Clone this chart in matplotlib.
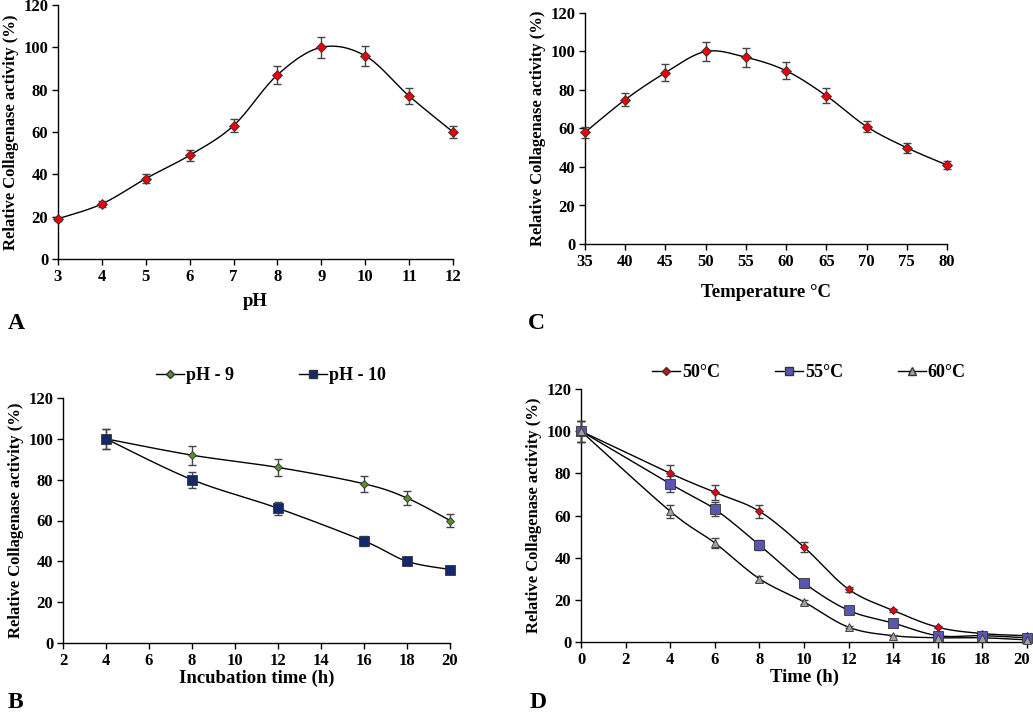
import numpy as np
import matplotlib
matplotlib.use("Agg")
import matplotlib.pyplot as plt
import matplotlib.transforms as mtransforms
from matplotlib.lines import Line2D

plt.rcParams['font.family'] = ['Liberation Serif', 'DejaVu Serif']
plt.rcParams['font.weight'] = 'bold'

# ---------------- data ----------------
ph_x = [3, 4, 5, 6, 7, 8, 9, 10, 11, 12]
ph_y = [19, 26, 38, 49, 63, 87, 100, 96, 77, 60]
ph_err = [1, 1.5, 2, 2.5, 3, 4.2, 5, 4.8, 4, 3]

temp_x = [35, 40, 45, 50, 55, 60, 65, 70, 75, 80]
temp_y = [58, 75, 89, 100, 97, 90, 77, 61, 50, 41]
temp_err = [3, 3.5, 4.5, 5, 4.8, 4.5, 4, 3, 2.5, 2]

inc_x = [4, 8, 12, 16, 18, 20]
ph9_y = [100, 92, 86, 78, 71, 60]
ph9_err = [5, 4.6, 4.3, 3.9, 3.5, 3]
ph10_y = [100, 80, 66, 50, 40, 36]
ph10_err = [5, 4, 3.3, 2.5, 2, 1.8]

time_x = [0, 4, 6, 8, 10, 12, 14, 16, 18, 20]
t50_y = [100, 80, 71, 62, 45, 25, 15, 7, 4, 3]
t50_err = [5, 4, 3.5, 3, 2.5, 1.3, 0.8, 0.4, 0.2, 0.2]
t55_y = [100, 75, 63, 46, 28, 15, 9, 3, 3, 2]
t55_err = [5, 3.7, 3.2, 2.3, 1.4, 0.8, 0.5, 0.2, 0.2, 0.1]
t60_y = [100, 62, 47, 30, 19, 7, 3, 2, 2, 1]
t60_err = [5, 3.1, 2.4, 1.5, 1.0, 0.4, 0.2, 0.1, 0.1, 0.1]


def smooth(x, y, n=30):
    """Excel-style smoothed line (Catmull-Rom Bezier)."""
    x = np.asarray(x, float); y = np.asarray(y, float)
    P = np.column_stack([x, y])
    out = []
    for i in range(len(P) - 1):
        p0 = P[i - 1] if i > 0 else P[i]
        p1 = P[i]
        p2 = P[i + 1]
        p3 = P[i + 2] if i + 2 < len(P) else P[i + 1]
        c1 = p1 + (p2 - p0) / 6.0
        c2 = p2 - (p3 - p1) / 6.0
        t = np.linspace(0, 1, n)[:, None]
        seg = ((1 - t) ** 3) * p1 + 3 * ((1 - t) ** 2) * t * c1 + 3 * (1 - t) * t ** 2 * c2 + t ** 3 * p2
        out.append(seg if i == 0 else seg[1:])
    S = np.vstack(out)
    return S[:, 0], S[:, 1]


W, H = 1033, 713
fig = plt.figure(figsize=(W / 100, H / 100), dpi=100)


def make_ax(l, r, t, b):
    return fig.add_axes([l / W, 1 - b / H, (r - l) / W, (b - t) / H])


def style(ax, xlim, xticks):
    ax.set_xlim(*xlim)
    ax.set_ylim(0, 120)
    ax.set_xticks(xticks)
    ax.set_yticks(range(0, 121, 20))
    for s in ['top', 'right']:
        ax.spines[s].set_visible(False)
    for s in ['left', 'bottom']:
        ax.spines[s].set_linewidth(1.0)
    ax.tick_params(direction='out', length=4, width=1, labelsize=12, pad=3)
    for lab in ax.get_xticklabels() + ax.get_yticklabels():
        lab.set_fontweight('bold')
    ax.set_ylabel('Relative Collagenase activity (%)', fontsize=12, fontweight='bold', labelpad=3)


def series(ax, x, y, err, marker, fc, ms, ec='#333333', mew=0.6):
    sx, sy = smooth(x, y)
    ax.plot(sx, sy, color='black', lw=1.0, zorder=2, clip_on=False)
    ax.errorbar(x, y, yerr=err, fmt='none', ecolor='#444444', elinewidth=1.0, capsize=2.8, capthick=1.0,
                zorder=3, clip_on=False)
    ax.plot(x, y, linestyle='none', marker=marker, mfc=fc, mec=ec, mew=mew, ms=ms, zorder=4, clip_on=False)


# ---------- Panel A ----------
axA = make_ax(58, 453, 5, 259)
series(axA, ph_x, ph_y, ph_err, 'D', '#e8000b', 5)
style(axA, (3, 12), ph_x)
axA.set_xlabel('pH', fontsize=13.5, fontweight='bold', labelpad=6)

# ---------- Panel C ----------
axC = make_ax(585, 947, 13, 244)
series(axC, temp_x, temp_y, temp_err, 'D', '#e8000b', 5)
style(axC, (35, 80), temp_x)
axC.set_xlabel('Temperature °C', fontsize=13.5, fontweight='bold', labelpad=10)

# ---------- Panel B ----------
axB = make_ax(63, 450, 398, 643)
series(axB, inc_x, ph9_y, ph9_err, 'D', '#5b8c32', 4.5)
series(axB, inc_x, ph10_y, ph10_err, 's', '#14286e', 7)
style(axB, (2, 20), range(2, 21, 2))
axB.set_xlabel('Incubation time (h)', fontsize=13.5, fontweight='bold', labelpad=1)
hB = [Line2D([], [], color='black', lw=1, marker='D', mfc='#5b8c32', mec='#333333', ms=4),
      Line2D([], [], color='black', lw=1, marker='s', mfc='#14286e', mec='#333333', ms=5.5)]
axB.legend(hB, ['pH - 9', 'pH - 10'], loc='center', bbox_to_anchor=(0.537, 1.09), ncol=2, frameon=False,
           prop={'weight': 'bold', 'size': 13}, handlelength=1.55, handletextpad=0.1, columnspacing=3.6)

# ---------- Panel D ----------
axD = make_ax(581, 1027, 389, 642)
series(axD, time_x, t50_y, t50_err, 'D', '#e8000b', 4.5)
series(axD, time_x, t55_y, t55_err, 's', '#5a55b0', 6.5)
series(axD, time_x, t60_y, t60_err, '^', '#a0a0a0', 6)
style(axD, (0, 20), range(0, 21, 2))
axD.set_xlabel('Time (h)', fontsize=13.5, fontweight='bold', labelpad=1)
# keep the last tick label inside the figure
last = axD.get_xticklabels()[-1]
last.set_transform(last.get_transform() + mtransforms.ScaledTranslation(-5 / 100, 0, fig.dpi_scale_trans))
hD = [Line2D([], [], color='black', lw=1, marker='D', mfc='#e8000b', mec='#333333', ms=4),
      Line2D([], [], color='black', lw=1, marker='s', mfc='#5a55b0', mec='#333333', ms=5.5),
      Line2D([], [], color='black', lw=1, marker='^', mfc='#a0a0a0', mec='#333333', ms=5.5)]
axD.legend(hD, ['50°C', '55°C', '60°C'], loc='center', bbox_to_anchor=(0.511, 1.065), ncol=3, frameon=False,
           prop={'weight': 'bold', 'size': 13}, handlelength=1.55, handletextpad=0.1, columnspacing=3.05)

# ---------- panel letters ----------
for txt, x, y in [('A', 8, 323), ('C', 528, 323), ('B', 8, 703), ('D', 530, 703)]:
    fig.text(x / W, 1 - y / H, txt, fontsize=17, fontweight='bold', ha='left', va='center')

fig.savefig('out.png', dpi=100, facecolor='white')
